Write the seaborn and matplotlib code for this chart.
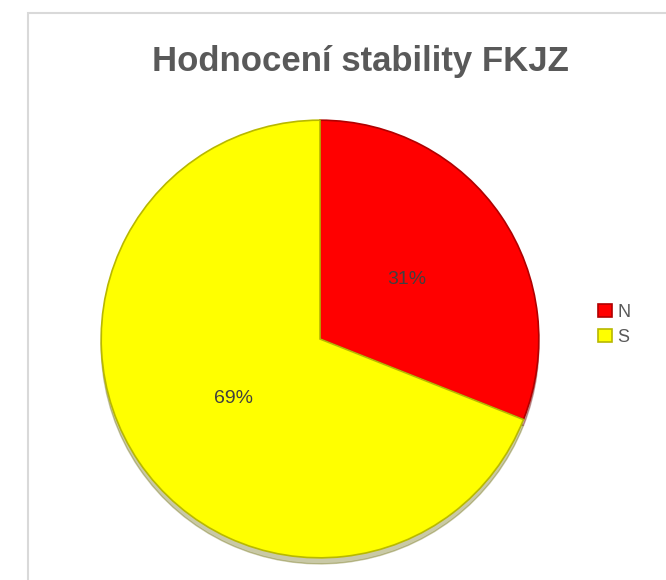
import matplotlib
matplotlib.use("Agg")
import matplotlib.pyplot as plt
import seaborn as sns
from matplotlib.patches import Rectangle

# data
categories = ["N", "S"]
shares = [31, 69]
colors = ["#ff0000", "#ffff00"]
title = "Hodnocení stability FKJZ"

sns.set_theme(style="white")
plt.rcParams['font.family'] = ['Liberation Sans', 'DejaVu Sans']

fig = plt.figure(figsize=(6.66, 5.8), dpi=100)

# light grey chart frame (runs off the right/bottom edge like the screenshot)
fig.patches.append(Rectangle((28 / 666, -0.1), 1.0, 1.0 - 13 / 580 + 0.1,
                             transform=fig.transFigure, fill=False,
                             edgecolor="#d9d9d9", linewidth=1.5))

ax = fig.add_axes([99 / 666, 1 - 560 / 580, 442 / 666, 442 / 580])
wedges, texts, autotexts = ax.pie(
    shares, colors=colors, startangle=90, counterclock=False,
    autopct="%d%%", pctdistance=0.48,
    wedgeprops=dict(edgecolor="none"),
    shadow=dict(ox=0.0, oy=-0.02, shade=0.6, alpha=0.35),
    textprops=dict(color="#404040", fontsize=14))
# darker rim to fake the bevel
for w, c in zip(wedges, ["#b00000", "#b8b800"]):
    w.set_edgecolor(c)
    w.set_linewidth(1.2)
ax.set_xlim(-1.01, 1.01)
ax.set_ylim(-1.01, 1.01)
ax.set_aspect("equal")
ax.axis("off")

fig.text(360 / 666, 1 - 62 / 580, title, ha="center", va="center",
         fontsize=25, fontweight="bold", color="#595959")

leg = fig.legend(wedges, categories, loc="center left",
                 bbox_to_anchor=(582 / 666, 1 - 325 / 580), frameon=False,
                 handlelength=0.75, handleheight=0.75, handletextpad=0.3,
                 labelspacing=0.45, fontsize=13)
for t in leg.get_texts():
    t.set_color("#595959")

fig.savefig("out.png", dpi=100)
